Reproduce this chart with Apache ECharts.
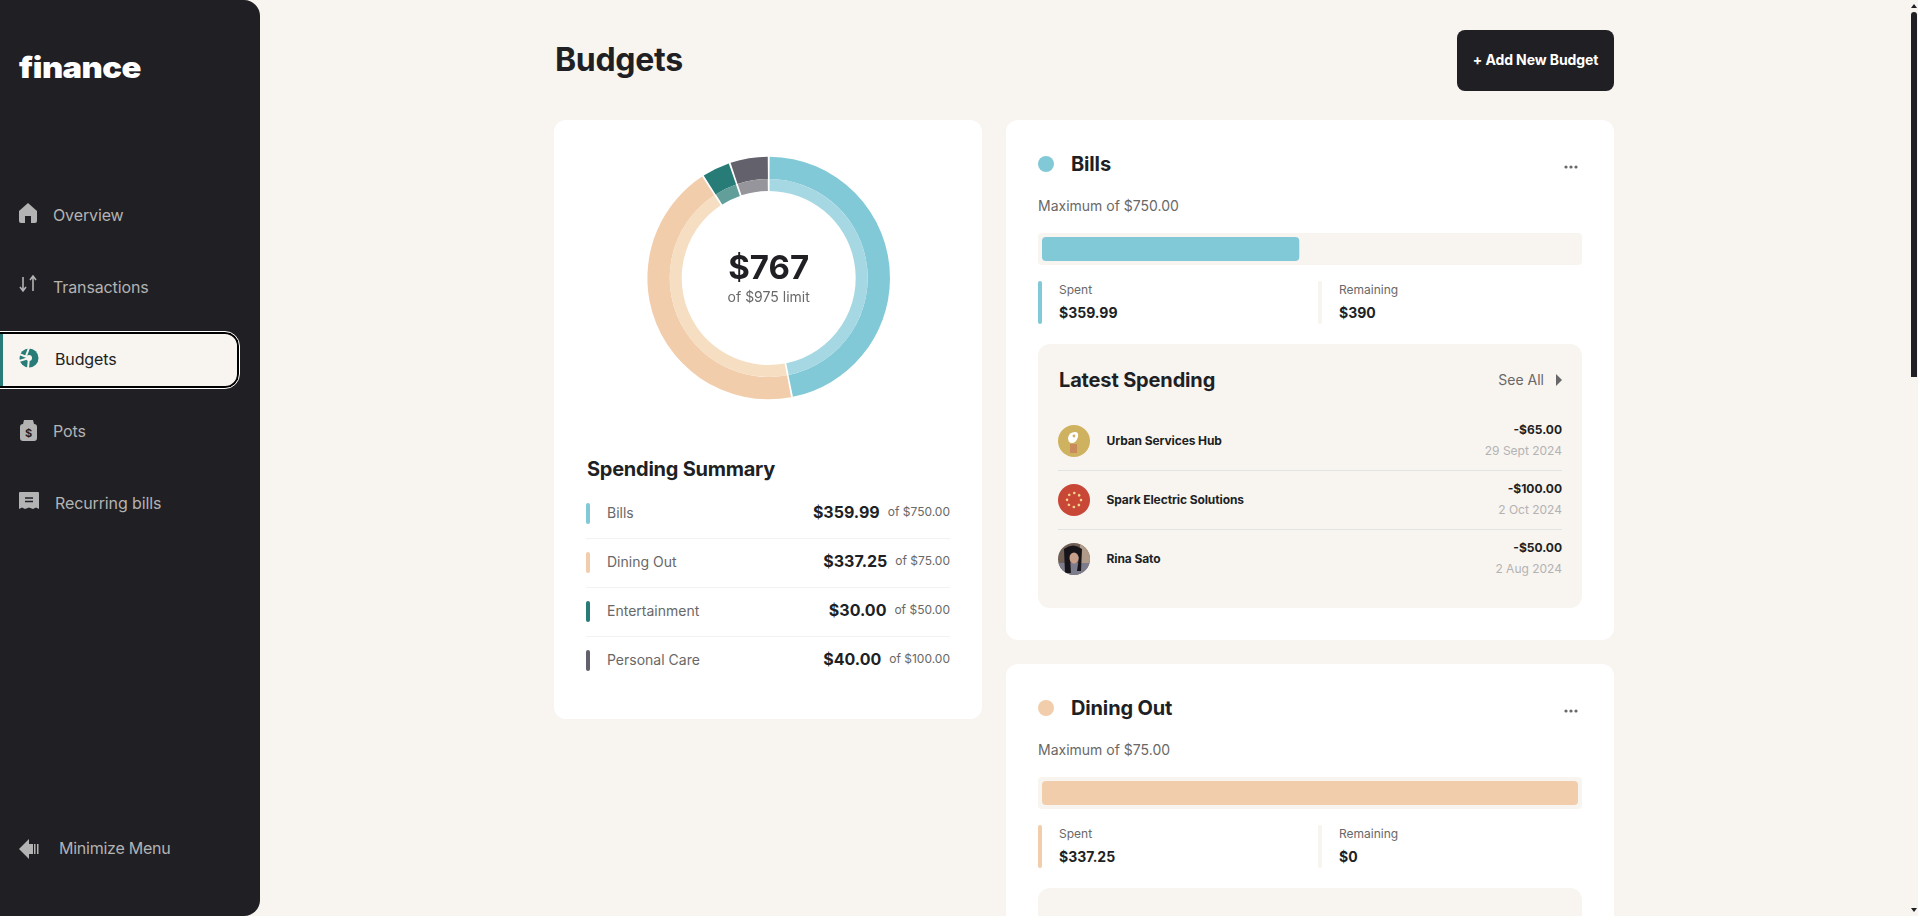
<!DOCTYPE html>
<html>
<head>
<meta charset="utf-8">
<title>Budgets</title>
<script src="https://cdn.jsdelivr.net/npm/echarts@6/dist/echarts.min.js"></script>
<style>
html,body{margin:0;padding:0;width:1918px;height:916px;overflow:hidden;background:#f8f4f0;font-family:Inter,"Noto Sans",sans-serif;color:#201f24}
div,span,svg{position:absolute;white-space:nowrap;box-sizing:border-box}
.mid{transform:translateY(-50%);line-height:1}
.right{transform:translate(-100%,-50%);line-height:1}
#sidebar{left:0;top:0;width:260px;height:916px;background:#201f24;border-radius:0 16px 16px 0}
#logo{left:19px;top:67px;font-size:29px;font-weight:900;color:#fff;letter-spacing:-.5px;transform-origin:left center;transform:translateY(-50%) scaleX(1.13);line-height:1}
#active{left:-4px;top:332px;width:243px;height:56px;background:#f8f4f0;border:2px solid #000;border-radius:0 14px 14px 0;outline:1.5px solid #fff}
#active i{position:absolute;left:2px;top:0;bottom:0;width:3px;background:#277c78}
.panel{background:#f8f4f0;border-radius:12px}
.track{background:#f8f4f0;border-radius:4px}
.bar4{width:4px;border-radius:2px}
.rule{height:1px}
</style>
</head>
<body>
<div id="sidebar">
  <div id="logo">finance</div>
  <div id="active"><i></i></div>
</div>
<div id="page"></div>
<div style="left:1911px;top:12px;width:6px;height:365px;background:#201f24;border-radius:3px 3px 0 0"></div>
<div style="left:1911px;top:4px;width:0;height:0;border-left:3px solid transparent;border-right:3px solid transparent;border-bottom:4px solid #201f24"></div>
<div style="left:1911px;top:908px;width:0;height:0;border-left:3px solid transparent;border-right:3px solid transparent;border-top:4px solid #201f24"></div>

<script>
var categories = ['Bills','Dining Out','Entertainment','Personal Care'];
var spent = [359.99,337.25,30,40];
var limits = [750,75,50,100];
var spentLabels = ['$359.99','$337.25','$30.00','$40.00'];
var limitLabels = ['of $750.00','of $75.00','of $50.00','of $100.00'];
var maximumLabels = ['Maximum of $750.00','Maximum of $75.00'];
var remainingLabels = ['$390','$0'];
var payees = ['Urban Services Hub','Spark Electric Solutions','Rina Sato'];
var amounts = ['-$65.00','-$100.00','-$50.00'];
var dates = ['29 Sept 2024','2 Oct 2024','2 Aug 2024'];
var navItems = ['Overview','Transactions','Budgets','Pots','Recurring bills'];
var colors = ['#82c9d7','#f2cdac','#277c78','#63626c'];
var lightColors = ['#a6d8e3','#f6dec2','#629f9b','#96959b'];

var page = document.getElementById('page');
var side = document.getElementById('sidebar');

function add(parent,left,top,css,text){
    var el = document.createElement('div');
    el.style.cssText = 'left:'+left+'px;top:'+top+'px;'+(css||'');
    if(text!==undefined) el.textContent = text;
    parent.appendChild(el);
    return el;
}
function txt(parent,left,top,size,weight,color,text,cls,spacing){
    var el = add(parent,left,top,'font-size:'+size+'px;font-weight:'+weight+';color:'+color+';letter-spacing:'+(spacing||0)+'px;',text);
    el.className = cls||'mid';
    return el;
}
function svg(parent,left,top,w,h,body){
    var el = add(parent,left,top,'width:'+w+'px;height:'+h+'px;');
    el.innerHTML = '<svg width="'+w+'" height="'+h+'" viewBox="0 0 '+w+' '+h+'" style="left:0;top:0">'+body+'</svg>';
    return el;
}

// sidebar
var navY = [215,287,359,431,503];
var navX = [53,53,55,53,55];
navItems.forEach(function(name,i){
    txt(side,navX[i],navY[i],16,400,i==2?'#201f24':'#b3b3b3',name,'mid',-0.12);
});
svg(side,19,203,18,20,'<path d="M9 0 L18 8 V18 Q18 20 16 20 H12 V13 H6 V20 H2 Q0 20 0 18 V8 Z" fill="#b3b3b3"/>');
svg(side,19,275,20,18,'<path d="M4 2 V15 M1 12 L4 16 L7 12 M14 16 V2 M11 5 L14 1 L17 5" stroke="#b3b3b3" stroke-width="1.6" fill="none"/>');
svg(side,19,348,20,20,'<circle cx="10" cy="10" r="9.5" fill="#277c78"/><path d="M10 10 L0 6 M10 10 L0 13 M10 0 L7 8 M10 10 L9 20" stroke="#f8f4f0" stroke-width="2"/><circle cx="10" cy="10" r="3" fill="#f8f4f0"/>');
svg(side,20,420,17,21,'<path d="M4 0 H13 L14 4 H3 Z" fill="#b3b3b3"/><rect x="0" y="4" width="17" height="17" rx="3" fill="#b3b3b3"/><text x="8.5" y="17" font-size="11" font-weight="700" text-anchor="middle" fill="#201f24">$</text>');
svg(side,19,492,20,17,'<path d="M1 0 H19 Q20 0 20 1 V17 L17 15.5 L14 17 L10 15.5 L6 17 L3 15.5 L0 17 V1 Q0 0 1 0 Z" fill="#b3b3b3"/><path d="M6 6 H14 M6 9.5 H14" stroke="#201f24" stroke-width="1.5"/>');
svg(side,19,839,21,20,'<path d="M0 10 L10 0 V20 Z" fill="#b3b3b3"/><rect x="10" y="5" width="4" height="10" fill="#b3b3b3"/><rect x="15" y="5" width="1.5" height="10" fill="#b3b3b3"/><rect x="18" y="5" width="1.5" height="10" fill="#b3b3b3"/>');
txt(side,59,848,16,400,'#b3b3b3','Minimize Menu','mid',-0.25);

// header
txt(page,555,60,32,700,'#201f24','Budgets','mid',-0.3);
add(page,1457,30,'width:157px;height:61px;background:#201f24;border-radius:8px;');
var btn = txt(page,1535.5,60,14,700,'#fff','+ Add New Budget','mid',-0.1);
btn.style.transform = 'translate(-50%,-50%)';

// left summary card
add(page,554,120,'width:428px;height:599px;background:#fff;border-radius:12px;');
var donutBox = add(page,554,120,'width:428px;height:320px;');
txt(page,587,469,20,700,'#201f24','Spending Summary','mid',-0.25);
var rowY = [513,562,611,660];
categories.forEach(function(name,i){
    add(page,586,rowY[i]-10.5,'height:21px;background:'+colors[i],'').className='bar4';
    txt(page,607,rowY[i],14,400,'#696868',name);
    var sub = txt(page,950,rowY[i]-1,12,400,'#696868',limitLabels[i],'right');
    var w = sub.getBoundingClientRect().width;
    txt(page,950-w-8,rowY[i]-1,16,700,'#201f24',spentLabels[i],'right');
    if(i<3) add(page,586,rowY[i]+25,'width:364px;background:#f2f2f2;').className='rule';
});

// budget cards, second one starts 544px lower
var barBoxes = [];
[0,1].forEach(function(i){
    var o = i*544, c = colors[i];
    add(page,1006,120+o,'width:608px;height:520px;background:#fff;border-radius:12px;');
    add(page,1038,156+o,'width:16px;height:16px;border-radius:50%;background:'+c);
    txt(page,1071,164+o,20,700,'#201f24',categories[i],'mid',-0.15);
    svg(page,1564,164+o,14,6,'<circle cx="2" cy="3" r="1.6" fill="#696868"/><circle cx="7" cy="3" r="1.6" fill="#696868"/><circle cx="12" cy="3" r="1.6" fill="#696868"/>');
    txt(page,1038,206+o,14,400,'#696868',maximumLabels[i]);
    add(page,1038,233+o,'width:544px;height:32px;').className='track';
    barBoxes.push(add(page,1042,237+o,'width:536px;height:24px;'));
    add(page,1038,281+o,'height:43px;background:'+c).className='bar4';
    txt(page,1059,290+o,12,400,'#696868','Spent');
    txt(page,1059,313+o,14,700,'#201f24',spentLabels[i]);
    add(page,1318,281+o,'height:43px;background:#f8f4f0').className='bar4';
    txt(page,1339,290+o,12,400,'#696868','Remaining');
    txt(page,1339,313+o,14,700,'#201f24',remainingLabels[i]);
    add(page,1038,344+o,'width:544px;height:264px;').className='panel';
});

// latest spending of the bills card
txt(page,1059,380,20,700,'#201f24','Latest Spending','mid',-0.15);
txt(page,1544,380,14,400,'#696868','See All','right');
svg(page,1556,374,7,12,'<path d="M0 0 L6 6 L0 12 Z" fill="#696868"/>');
var payY = [441,500,559];
payees.forEach(function(name,i){
    txt(page,1106.5,payY[i],12,700,'#201f24',name,'mid',-0.1);
    txt(page,1562,payY[i]-11,12,700,'#201f24',amounts[i],'right');
    txt(page,1562,payY[i]+10,12,400,'#b3b3b3',dates[i],'right');
    if(i<2) add(page,1058,payY[i]+29,'width:504px;background:#e3e4e4;').className='rule';
});
svg(page,1058,425,32,32,'<circle cx="16" cy="16" r="16" fill="#cfb25f"/><rect x="12" y="19" width="7" height="9" fill="#c98a5c"/><path d="M10 13 Q11 7 17 7 Q21 7 20 12 Q18 18 14 18 Q10 18 10 13 Z" fill="#fff"/><circle cx="16" cy="11" r="1.4" fill="#cfb25f"/>');
svg(page,1058,484,32,32,'<circle cx="16" cy="16" r="16" fill="#c94736"/><circle cx="16" cy="16" r="7" fill="none" stroke="#f0d38c" stroke-width="2.6" stroke-linecap="round" stroke-dasharray="0.1 5.4"/>');
svg(page,1058,543,32,32,'<defs><clipPath id="av"><circle cx="16" cy="16" r="16"/></clipPath></defs><g clip-path="url(#av)"><rect width="32" height="32" fill="#6f5f55"/><rect x="22" y="0" width="10" height="20" fill="#b09a88"/><rect x="0" y="20" width="32" height="12" fill="#7d7c8c"/><path d="M6 6 Q15 -1 24 6 L23 28 H19 L21 14 Q16 9 12 13 L13 30 H7 Z" fill="#17151a"/><ellipse cx="16" cy="15" rx="4.5" ry="5.5" fill="#c99f8a"/></g>');

// donut
var pieValues = categories.map(function(name,i){ return {name:name,value:spent[i],itemStyle:{color:colors[i]}}; });
var pieLight = categories.map(function(name,i){ return {name:name,value:spent[i],itemStyle:{color:lightColors[i]}}; });
var donut = echarts.init(donutBox);
donut.setOption({
    animation:false,
    graphic:[
        {type:'text',silent:true,x:214.7,y:149.5,style:{text:'$767',fill:'#201f24',font:'700 33px Inter',textAlign:'center',textVerticalAlign:'middle'}},
        {type:'text',silent:true,x:214.7,y:178,style:{text:'of $975 limit',fill:'#696868',font:'400 14px Inter',textAlign:'center',textVerticalAlign:'middle'}}
    ],
    series:[
        {type:'pie',silent:true,center:[214.7,158],radius:[99,121.3],startAngle:90,padAngle:0.9,label:{show:false},labelLine:{show:false},data:pieValues},
        {type:'pie',silent:true,center:[214.7,158],radius:[87,99],startAngle:90,padAngle:1.1,label:{show:false},labelLine:{show:false},data:pieLight}
    ]
});

// progress bars
barBoxes.forEach(function(box,i){
    var chart = echarts.init(box);
    chart.setOption({
        animation:false,
        grid:{left:0,right:0,top:0,bottom:0},
        xAxis:{type:'value',min:0,max:limits[i],show:false},
        yAxis:{type:'category',data:[categories[i]],show:false},
        series:[{type:'bar',silent:true,barWidth:'100%',data:[Math.min(spent[i],limits[i])],itemStyle:{color:colors[i],borderRadius:4}}]
    });
});
</script>
</body>
</html>
